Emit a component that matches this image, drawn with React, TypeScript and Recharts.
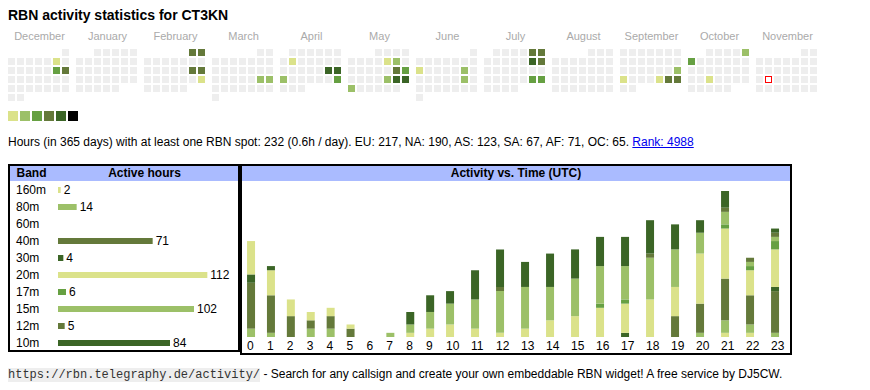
import React from 'react';
import {
  BarChart,
  Bar,
  Cell,
  LabelList,
  ScatterChart,
  Scatter,
  XAxis,
  YAxis,
} from 'recharts';

// calendar: Dec 2024 .. Nov 2025, level 1..5 per active day
const monthNames = ['December', 'January', 'February', 'March', 'April', 'May', 'June', 'July', 'August', 'September', 'October', 'November'];
const activeDays: [string, number][] = [
  ['2024-12-07', 1], ['2024-12-14', 3], ['2024-12-15', 4],
  ['2025-02-01', 4], ['2025-02-02', 4], ['2025-02-15', 4], ['2025-02-16', 4], ['2025-02-23', 1],
  ['2025-03-22', 2], ['2025-03-23', 2],
  ['2025-04-08', 1], ['2025-04-19', 5], ['2025-04-20', 5], ['2025-04-21', 2], ['2025-04-27', 3],
  ['2025-05-09', 1], ['2025-05-10', 2], ['2025-05-17', 4], ['2025-05-18', 3],
  ['2025-05-23', 2], ['2025-05-24', 5], ['2025-05-25', 5], ['2025-05-26', 2],
  ['2025-06-09', 1], ['2025-06-14', 2], ['2025-06-21', 2],
  ['2025-07-05', 4], ['2025-07-06', 4], ['2025-07-12', 5], ['2025-07-13', 4], ['2025-07-26', 3], ['2025-07-27', 3],
  ['2025-09-21', 2], ['2025-09-22', 1], ['2025-09-26', 1], ['2025-09-27', 4], ['2025-09-28', 4],
  ['2025-10-05', 2], ['2025-10-06', 3], ['2025-10-22', 1],
];
const today = '2025-11-18';
const levelColors = ['#eeeeee', '#dbe28a', '#9cc068', '#66a042', '#64793a', '#3b6526', '#000000'];

// bands
const bands = ['160m', '80m', '60m', '40m', '30m', '20m', '17m', '15m', '12m', '10m'];
const bandHours = [2, 14, 0, 71, 4, 112, 6, 102, 5, 84];
const bandColors = ['#dbe28a', '#9cc068', '#66a042', '#64793a', '#3b6526', '#dbe28a', '#66a042', '#9cc068', '#64793a', '#3b6526'];

// activity per UTC hour, one array per band
const hourLabels = ['0', '1', '2', '3', '4', '5', '6', '7', '8', '9', '10', '11', '12', '13', '14', '15', '16', '17', '18', '19', '20', '21', '22', '23'];
const h160 = [0, 0, 0, 0, 0, 0, 0, 0, 0, 0, 0, 0, 0, 0, 0, 0, 0, 0, 0, 0, 0, 1, 1, 0];
const h80 = [2, 1, 0, 2, 2, 0, 0, 0, 0, 0, 0, 0, 0, 0, 0, 0, 0, 0, 0, 0, 1, 3, 2, 1];
const h60 = [0, 0, 0, 0, 0, 0, 0, 0, 0, 0, 0, 0, 0, 0, 0, 0, 0, 0, 0, 0, 0, 0, 0, 0];
const h40 = [11, 9, 5, 2, 3, 2, 0, 0, 0, 0, 0, 0, 0, 0, 0, 0, 0, 0, 0, 5, 7, 10, 7, 10];
const h30 = [2, 0, 0, 0, 0, 0, 0, 0, 0, 0, 0, 0, 0, 0, 0, 0, 0, 1, 0, 0, 0, 0, 0, 1];
const h20 = [8, 6, 4, 2, 2, 1, 0, 0, 1, 2, 3, 2, 1, 2, 4, 5, 7, 7, 9, 7, 12, 12, 6, 9];
const h17 = [0, 0, 0, 0, 0, 0, 0, 0, 0, 0, 0, 0, 0, 0, 0, 0, 1, 1, 0, 0, 0, 1, 1, 2];
const h15 = [0, 0, 0, 0, 0, 0, 0, 1, 2, 4, 5, 7, 10, 10, 8, 9, 9, 8, 10, 9, 5, 3, 1, 1];
const h12 = [0, 0, 0, 0, 0, 0, 0, 0, 0, 0, 0, 0, 1, 0, 0, 0, 0, 0, 1, 0, 0, 1, 1, 1];
const h10 = [0, 1, 0, 0, 0, 0, 0, 0, 3, 4, 3, 7, 9, 6, 8, 7, 7, 7, 8, 6, 3, 4, 0, 1];
const hourlyByBand = [h160, h80, h60, h40, h30, h20, h17, h15, h12, h10];

const FONT = '"Liberation Sans", Arial, sans-serif';

// calendar layout: month blocks of 7 weekday columns
const BLOCK = 68;
const CELL = 9;
const levelOf = new Map(activeDays);
const calCells: { x: number; y: number; level: number; today: boolean }[] = [];
monthNames.forEach((_, b) => {
  const year = b === 0 ? 2024 : 2025;
  const month = (11 + b) % 12;
  const first = (new Date(Date.UTC(year, month, 1)).getUTCDay() + 6) % 7;
  const days = new Date(Date.UTC(year, month + 1, 0)).getUTCDate();
  for (let d = 1; d <= days; d++) {
    const idx = first + d - 1;
    const key = `${year}-${String(month + 1).padStart(2, '0')}-${String(d).padStart(2, '0')}`;
    calCells.push({
      x: b * BLOCK + (idx % 7) * CELL,
      y: Math.floor(idx / 7) * CELL,
      level: levelOf.get(key) ?? 0,
      today: key === today,
    });
  }
});

const DayCell = (props: any) => {
  const { cx, cy, payload } = props;
  if (payload.today) {
    return <rect x={cx + 0.5} y={cy + 0.5} width={6} height={6} fill="#fff" stroke="#ff0000" strokeWidth={1} />;
  }
  return <rect x={cx} y={cy} width={7} height={7} fill={levelColors[payload.level]} />;
};

const bandRows = bands.map((band, i) => ({ band, hours: bandHours[i], color: bandColors[i] }));

// hour columns are as wide as their labels: one digit vs two digits
const slotPos = (i: number) => (i <= 10 ? 19.9 * i : 199 + 25 * (i - 10));
const activityRows = hourLabels.map((hour, i) => {
  const row: Record<string, number | string> = { pos: slotPos(i), hour };
  bands.forEach((b, k) => {
    row[b] = hourlyByBand[k][i];
  });
  return row;
});

const BandTick = (props: any) => {
  const { y, payload } = props;
  return (
    <text x={8} y={y} dy={4} textAnchor="start" fontSize={12} fill="#000" fontFamily={FONT}>
      {payload.value}
    </text>
  );
};

const HourTick = (props: any) => {
  const { x, y, payload } = props;
  const i = activityRows.findIndex((r) => r.pos === payload.value);
  return (
    <text x={x - 4} y={y} dy={4.5} textAnchor="start" fontSize={12} fill="#000" fontFamily={FONT}>
      {hourLabels[i]}
    </text>
  );
};

const abs = (left: number, top: number, extra: React.CSSProperties = {}): React.CSSProperties => ({
  position: 'absolute',
  left,
  top,
  ...extra,
});

export default function App() {
  return (
    <div style={{ position: 'absolute', left: 0, top: 0, width: 870, height: 390, background: '#fff', fontFamily: FONT, color: '#000' }}>
      <div style={abs(8, 5, { fontSize: 14, fontWeight: 'bold', lineHeight: '20px', whiteSpace: 'nowrap' })}>
        RBN activity statistics for CT3KN
      </div>

      {monthNames.map((m, b) => (
        <div
          key={m}
          style={abs(8 + b * BLOCK, 28.5, { width: 63, textAlign: 'center', fontSize: 11, lineHeight: '14px', color: '#aaaaaa', whiteSpace: 'nowrap' })}
        >
          {m}
        </div>
      ))}

      <div style={abs(8, 49)}>
        <ScatterChart width={820} height={60} margin={{ top: 0, right: 0, bottom: 0, left: 0 }}>
          <XAxis type="number" dataKey="x" domain={[0, 820]} hide />
          <YAxis type="number" dataKey="y" domain={[0, 60]} reversed hide />
          <Scatter data={calCells} shape={DayCell} isAnimationActive={false} />
        </ScatterChart>
      </div>

      {levelColors.slice(1).map((c, i) => (
        <div key={c} style={abs(8 + i * 12, 111, { width: 10, height: 10, background: c })} />
      ))}

      <div style={abs(8, 133.5, { fontSize: 12, lineHeight: '16px', whiteSpace: 'nowrap' })}>
        Hours (in 365 days) with at least one RBN spot: 232 (0.6h / day). EU: 217, NA: 190, AS: 123, SA: 67, AF: 71, OC: 65.{' '}
        <span style={{ color: '#0000ee', textDecoration: 'underline' }}>Rank: 4988</span>
      </div>

      {/* band box */}
      <div style={abs(8, 164, { width: 232, height: 188, border: '2px solid #000', boxSizing: 'border-box' })} />
      <div style={abs(10, 166, { width: 228, height: 15, background: '#aabbff' })} />
      <div style={abs(16.5, 166, { fontSize: 12, fontWeight: 'bold', lineHeight: '15px' })}>Band</div>
      <div style={abs(104, 166, { width: 81, textAlign: 'center', fontSize: 12, fontWeight: 'bold', lineHeight: '15px' })}>Active hours</div>
      <div style={abs(8, 181)}>
        <BarChart layout="vertical" width={230} height={170} data={bandRows} margin={{ top: 0, right: 0, bottom: 0, left: 0 }}>
          <XAxis type="number" domain={[0, 135]} hide />
          <YAxis type="category" dataKey="band" width={50} axisLine={false} tickLine={false} tick={BandTick} interval={0} />
          <Bar dataKey="hours" barSize={6} isAnimationActive={false}>
            {bandRows.map((r) => (
              <Cell key={r.band} fill={r.color} />
            ))}
            <LabelList
              dataKey="hours"
              position="right"
              offset={3}
              fill="#000"
              fontSize={12}
              fontFamily={FONT}
              formatter={(v: any) => (v ? v : '')}
            />
          </Bar>
        </BarChart>
      </div>

      {/* activity box */}
      <div style={abs(240, 164, { width: 552, height: 191, border: '2px solid #000', boxSizing: 'border-box' })} />
      <div style={abs(242, 166, { width: 548, height: 15, background: '#aabbff', textAlign: 'center', fontSize: 12, fontWeight: 'bold', lineHeight: '15px' })}>
        Activity vs. Time (UTC)
      </div>
      <div style={abs(242, 191)}>
        <BarChart width={548} height={166} data={activityRows} margin={{ top: 0, right: 0, bottom: 0, left: 0 }}>
          <XAxis
            type="number"
            dataKey="pos"
            domain={[-9, 539]}
            ticks={activityRows.map((r) => r.pos as number)}
            interval={0}
            height={20}
            axisLine={false}
            tickLine={false}
            tick={HourTick}
          />
          <YAxis type="number" domain={[0, 35]} hide />
          {bands.map((b, k) => (
            <Bar key={b} dataKey={b} stackId="t" fill={bandColors[k]} barSize={8} isAnimationActive={false} />
          ))}
        </BarChart>
      </div>

      <div style={abs(8, 366, { fontSize: 12, lineHeight: '16px', whiteSpace: 'nowrap' })}>
        <span style={{ fontFamily: '"Liberation Mono", "DejaVu Sans Mono", monospace', background: '#eeeeee', color: '#333' }}>
          https://rbn.telegraphy.de/activity/
        </span>{' '}
        - Search for any callsign and create your own embeddable RBN widget! A free service by DJ5CW.
      </div>
    </div>
  );
}
